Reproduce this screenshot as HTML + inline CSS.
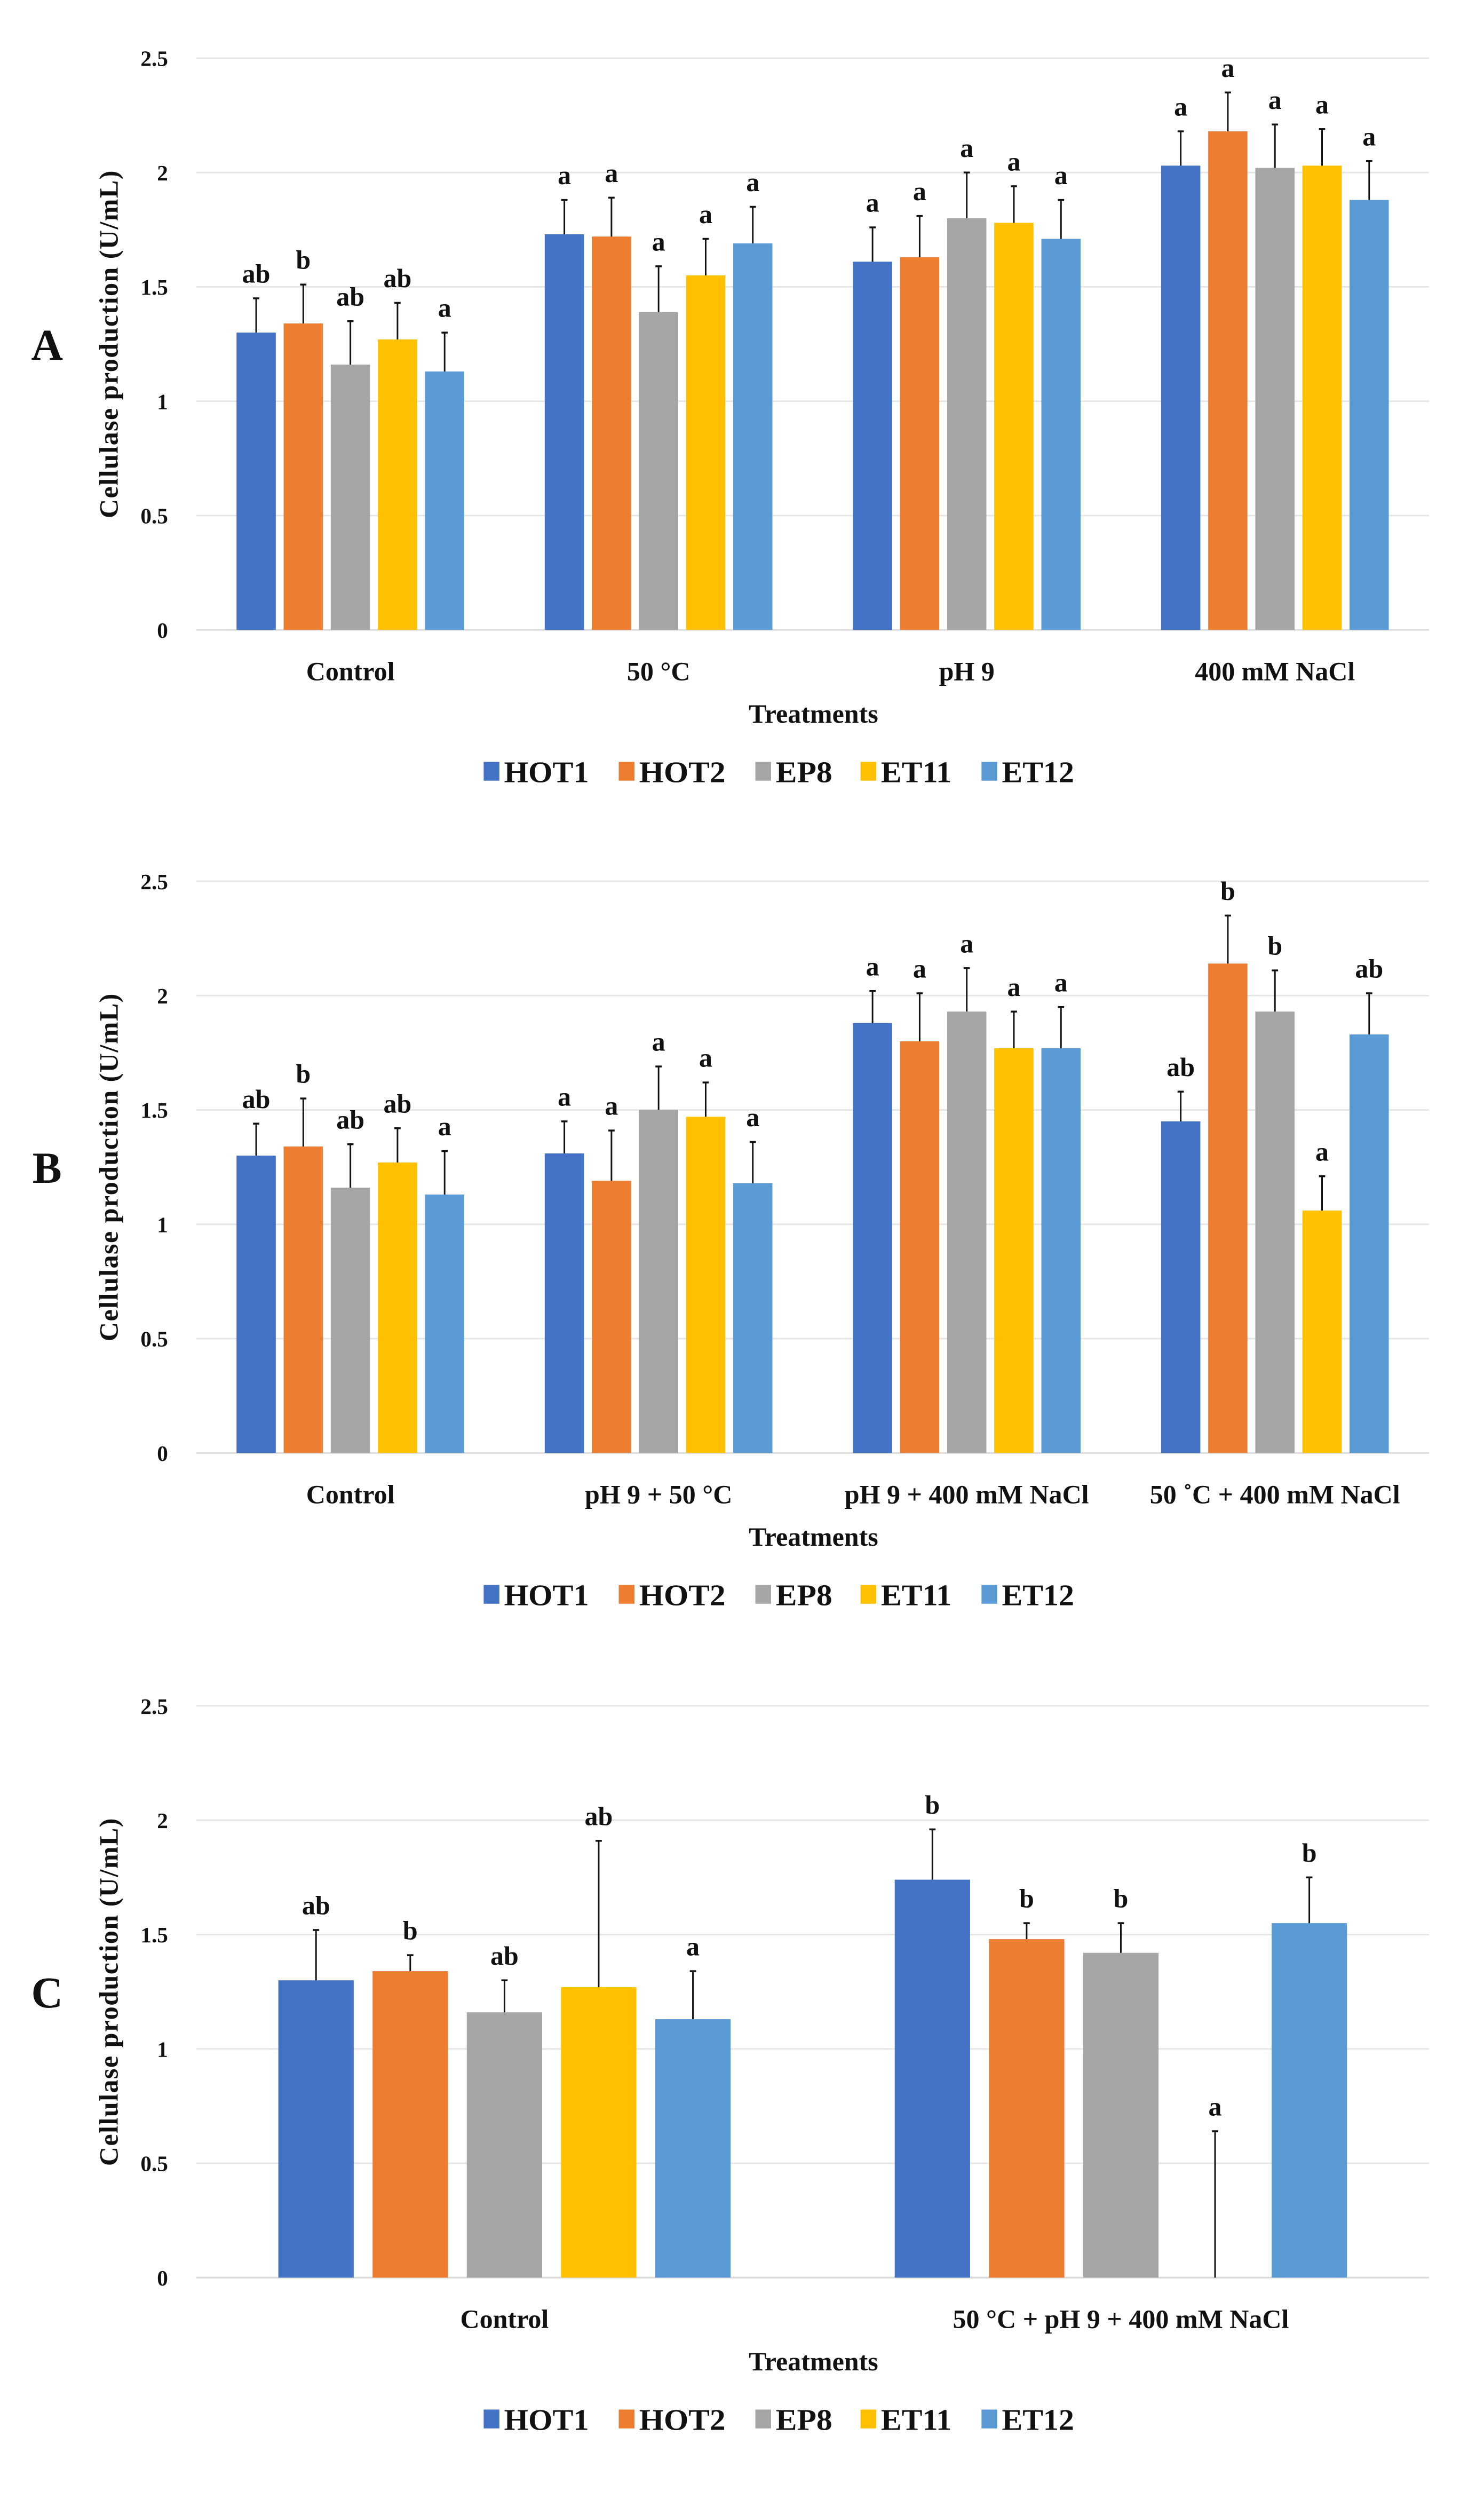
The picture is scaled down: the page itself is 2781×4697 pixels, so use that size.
<!DOCTYPE html>
<html><head><meta charset="utf-8"><style>
html,body{margin:0;padding:0;background:#fff;}
svg{display:block;}
text{font-family:"Liberation Serif",serif;font-weight:bold;fill:#111;}
</style></head><body>
<svg id="fig" width="2781" height="4697" viewBox="0 0 945 1596" xmlns="http://www.w3.org/2000/svg"></svg>
<script>
const series = ["HOT1","HOT2","EP8","ET11","ET12"];
const colors = ["#4472c4","#ed7d31","#a5a5a5","#ffc000","#5b9bd5"];
const yTicks = [0,0.5,1,1.5,2,2.5];
const yTickLabels = ["0","0.5","1","1.5","2","2.5"];

const catsA = ["Control","50 °C","pH 9","400 mM NaCl"];
const valsA = [[1.30,1.34,1.16,1.27,1.13],[1.73,1.72,1.39,1.55,1.69],[1.61,1.63,1.80,1.78,1.71],[2.03,2.18,2.02,2.03,1.88]];
const topsA = [[1.45,1.51,1.35,1.43,1.30],[1.88,1.89,1.59,1.71,1.85],[1.76,1.81,2.00,1.94,1.88],[2.18,2.35,2.21,2.19,2.05]];
const lettersA = [["ab","b","ab","ab","a"],["a","a","a","a","a"],["a","a","a","a","a"],["a","a","a","a","a"]];

const catsB = ["Control","pH 9 + 50 °C","pH 9 + 400 mM NaCl","50 ˚C + 400 mM NaCl"];
const valsB = [[1.30,1.34,1.16,1.27,1.13],[1.31,1.19,1.50,1.47,1.18],[1.88,1.80,1.93,1.77,1.77],[1.45,2.14,1.93,1.06,1.83]];
const topsB = [[1.44,1.55,1.35,1.42,1.32],[1.45,1.41,1.69,1.62,1.36],[2.02,2.01,2.12,1.93,1.95],[1.58,2.35,2.11,1.21,2.01]];
const lettersB = [["ab","b","ab","ab","a"],["a","a","a","a","a"],["a","a","a","a","a"],["ab","b","b","a","ab"]];

const catsC = ["Control","50 °C + pH 9 + 400 mM NaCl"];
const valsC = [[1.30,1.34,1.16,1.27,1.13],[1.74,1.48,1.42,0,1.55]];
const topsC = [[1.52,1.41,1.30,1.91,1.34],[1.96,1.55,1.55,0.64,1.75]];
const lettersC = [["ab","b","ab","ab","a"],["b","b","b","a","b"]];

const NS="http://www.w3.org/2000/svg";
const svg=document.getElementById('fig');
function mk(tag,attrs,parent){const e=document.createElementNS(NS,tag);for(const k in attrs)e.setAttribute(k,attrs[k]);(parent||svg).appendChild(e);return e;}

function panel(id,letter,y0,cats,vals,tops,letters,barW,step){
  const g=mk('g',{});
  
  
  const left=125,right=910,top=y0,bottom=y0+364;
  const yScale=v=>bottom-(v/2.5)*(bottom-top);
  const groupW=(right-left)/cats.length;
  const xc=i=>left+groupW*(i+0.5);
  yTicks.forEach((t,i)=>{
    const l=mk('line',{x1:left,x2:right,y1:yScale(t),y2:yScale(t),stroke:i===0?'#d9d9d9':'#e6e6e6','stroke-width':1},g);
    
    
    const tx=mk('text',{x:107,y:yScale(t)+5,'text-anchor':'end','font-size':14},g);
    tx.textContent=yTickLabels[i];
    
    
  });
  const yt=mk('text',{x:0,y:0,'text-anchor':'middle','font-size':17,transform:`translate(75,${(top+bottom)/2}) rotate(-90)`,'letter-spacing':'0.5'},g);
  yt.textContent='Cellulase production (U/mL)';
  
  
  const pl=mk('text',{x:30,y:(top+bottom)/2+10,'text-anchor':'middle','font-size':28},g);
  pl.textContent=letter;
  
  
  cats.forEach((c,i)=>{
    const gw=5*step-(step-barW);
    const x0=xc(i)-gw/2;
    vals[i].forEach((v,j)=>{
      const x=x0+j*step;
      const r=mk('rect',{x:x,y:yScale(v),width:barW,height:bottom-yScale(v),fill:colors[j]},g);
      
      
      const cx=x+barW/2;
      const e=mk('line',{x1:cx,x2:cx,y1:yScale(v),y2:yScale(tops[i][j]),stroke:'#111','stroke-width':1},g);
      
      
      const cap=mk('line',{x1:cx-2,x2:cx+2,y1:yScale(tops[i][j]),y2:yScale(tops[i][j]),stroke:'#111','stroke-width':1.2},g);
      
      
      const lt=mk('text',{x:cx,y:yScale(tops[i][j])-10,'text-anchor':'middle','font-size':17},g);
      lt.textContent=letters[i][j];
      
      
    });
    const cl=mk('text',{x:xc(i),y:bottom+32,'text-anchor':'middle','font-size':17},g);
    cl.textContent=c;
    
    
  });
  const xt=mk('text',{x:518,y:bottom+59,'text-anchor':'middle','font-size':17},g);
  xt.textContent='Treatments';
  
  
  const lx=[308,394,481,548,625];
  const lw=[54,55,36,45,46];
  series.forEach((s,j)=>{
    const sq=mk('rect',{x:lx[j],y:bottom+84,width:10,height:12,fill:colors[j]},g);
    
    
    const st=mk('text',{x:lx[j]+13,y:bottom+97,'font-size':19,textLength:lw[j],lengthAdjust:'spacingAndGlyphs'},g);
    st.textContent=s;
    
    
  });
}
panel('a','A',37,catsA,valsA,topsA,lettersA,25,30);
panel('b','B',561,catsB,valsB,topsB,lettersB,25,30);
panel('c','C',1086,catsC,valsC,topsC,lettersC,48,60);
</script>
</body></html>
